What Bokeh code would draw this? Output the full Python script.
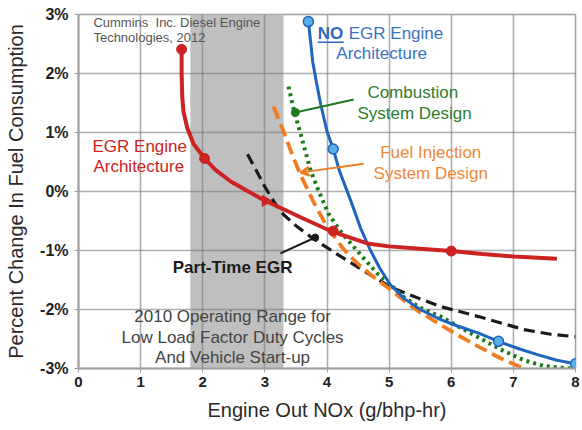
from bokeh.plotting import figure
from bokeh.models import Label, BoxAnnotation, Arrow, VeeHead, Range1d
from bokeh.embed import file_html
from bokeh.resources import INLINE

# ---------------- data ----------------
x_ticks = [0, 1, 2, 3, 4, 5, 6, 7, 8]
x_tick_labels = ["0", "1", "2", "3", "4", "5", "6", "7", "8"]
y_ticks = [-3, -2, -1, 0, 1, 2, 3]
y_tick_labels = ["-3%", "-2%", "-1%", "0%", "1%", "2%", "3%"]

# EGR engine architecture (red)
red_x = [1.66, 1.66, 1.67, 1.69, 1.75, 1.85, 2.03, 2.20, 2.45, 2.70, 3.01, 3.30, 3.60, 4.06, 4.65, 5.00, 5.50, 6.00, 6.50, 7.00, 7.70]
red_y = [2.41, 2.00, 1.60, 1.35, 1.08, 0.81, 0.56, 0.37, 0.17, 0.02, -0.16, -0.30, -0.45, -0.67, -0.88, -0.93, -0.97, -1.01, -1.06, -1.10, -1.14]
red_mx = [1.66, 2.03, 4.10, 6.00]
red_my = [2.41, 0.56, -0.67, -1.01]
red_tx = [3.01]
red_ty = [-0.16]

# NO EGR engine architecture (blue)
blue_x = [3.70, 3.74, 3.77, 3.83, 3.90, 4.00, 4.10, 4.20, 4.38, 4.54, 4.70, 4.85, 5.02, 5.25, 5.50, 5.83, 6.10, 6.44, 6.76, 7.10, 7.40, 7.70, 8.00]
blue_y = [2.88, 2.50, 2.20, 1.85, 1.47, 1.02, 0.72, 0.35, -0.15, -0.62, -1.00, -1.30, -1.58, -1.82, -2.00, -2.17, -2.28, -2.40, -2.54, -2.67, -2.77, -2.86, -2.92]
blue_mx = [3.70, 4.10, 6.76, 8.00]
blue_my = [2.88, 0.72, -2.54, -2.92]

# Combustion system design (green dotted)
green_x = [3.38, 3.43, 3.48, 3.57, 3.66, 3.74, 3.85, 4.03, 4.22, 4.54, 4.80, 5.02, 5.25, 5.50, 5.83, 6.10, 6.45, 6.80, 7.17, 7.50, 7.92]
green_y = [1.78, 1.55, 1.32, 1.00, 0.65, 0.34, 0.05, -0.39, -0.68, -1.07, -1.38, -1.58, -1.80, -1.97, -2.12, -2.28, -2.48, -2.68, -2.86, -2.96, -3.00]

# Fuel injection system design (orange dashed)
orange_x = [3.14, 3.30, 3.45, 3.57, 3.78, 4.00, 4.27, 4.49, 4.75, 5.02, 5.30, 5.50, 5.83, 6.10, 6.44, 6.80, 7.17]
orange_y = [1.44, 1.02, 0.60, 0.29, -0.17, -0.60, -0.98, -1.22, -1.45, -1.66, -1.90, -2.05, -2.26, -2.43, -2.63, -2.83, -3.00]

# Part-time EGR (black dashed)
black_x = [2.72, 2.85, 3.00, 3.15, 3.30, 3.50, 3.78, 4.00, 4.22, 4.60, 5.02, 5.50, 5.83, 6.44, 7.17, 7.60, 8.00]
black_y = [0.63, 0.38, 0.08, -0.18, -0.39, -0.58, -0.80, -0.95, -1.10, -1.35, -1.62, -1.82, -1.95, -2.12, -2.34, -2.42, -2.46]

# 2010 operating range band
band_left, band_right = 1.8, 3.3

FONT = "Liberation Sans"
RED = "#cc2222"
BLUE = "#1f64bd"
BLUE_FILL = "#5aaee8"
GREEN = "#1d7a1d"
ORANGE = "#f07d22"
BLACK = "#1a1a1a"

p = figure(width=582, height=430, output_backend="svg", toolbar_location=None,
           x_range=Range1d(0, 8), y_range=Range1d(-3, 3),
           min_border_left=78, min_border_right=7, min_border_top=14, min_border_bottom=62)
p.background_fill_color = "white"
p.border_fill_color = "white"
p.outline_line_color = "#a0a0a0"
p.outline_line_width = 1.5

band = BoxAnnotation(left=band_left, right=band_right, fill_color="#bfbfbf", fill_alpha=1.0,
                     line_color=None, level="image")
p.add_layout(band)

for g in (p.xgrid, p.ygrid):
    g.grid_line_color = "#7a7a7a"
    g.grid_line_alpha = 0.6
    g.grid_line_width = 1.6

p.xaxis.ticker = x_ticks
p.yaxis.ticker = y_ticks
p.xaxis.major_label_overrides = {t: l for t, l in zip(x_ticks, x_tick_labels)}
p.yaxis.major_label_overrides = {t: l for t, l in zip(y_ticks, y_tick_labels)}

for ax in (p.xaxis, p.yaxis):
    ax.axis_line_color = "#a0a0a0"
    ax.axis_line_width = 2
    ax.major_tick_line_color = "#a0a0a0"
    ax.major_tick_out = 4
    ax.major_tick_in = 0
    ax.minor_tick_line_color = None
    ax.major_label_text_font = FONT
    ax.major_label_text_font_style = "bold"
    ax.major_label_text_color = "#222222"
    ax.axis_label_text_font = FONT
    ax.axis_label_text_font_style = "normal"
    ax.axis_label_text_color = "#2a2a2a"
    ax.axis_label_text_font_size = "20px"

p.xaxis.major_label_text_font_size = "15px"
p.yaxis.major_label_text_font_size = "16px"
p.xaxis.major_label_standoff = 4
p.yaxis.major_label_standoff = 6
p.xaxis.axis_label = "Engine Out NOx (g/bhp-hr)"
p.yaxis.axis_label = "Percent Change In Fuel Consumption"
p.xaxis.axis_label_standoff = 9
p.yaxis.axis_label_standoff = 10

# curves
p.line(black_x, black_y, line_color=BLACK, line_width=3.2, line_dash="11 6")
p.line(orange_x, orange_y, line_color=ORANGE, line_width=3.8, line_dash="13 6")
p.line(green_x, green_y, line_color=GREEN, line_width=4, line_dash="3 4")
p.line(blue_x, blue_y, line_color=BLUE, line_width=3)
p.line(red_x, red_y, line_color=RED, line_width=4)

p.scatter(red_mx, red_my, size=10, fill_color=RED, line_color=RED)
p.scatter(red_tx, red_ty, marker="triangle", size=11, angle=0.5, fill_color=RED, line_color=RED)
p.scatter(blue_mx, blue_my, size=10, fill_color=BLUE_FILL, line_color=BLUE, line_width=1.5)

# leader lines
p.line([4.43, 3.49], [1.56, 1.34], line_color=GREEN, line_width=2)
p.scatter([3.49], [1.34], size=8, fill_color=GREEN, line_color=GREEN)
p.add_layout(Arrow(end=VeeHead(size=9, line_color=ORANGE, fill_color=ORANGE, line_width=2),
                   x_start=4.59, y_start=0.47, x_end=3.57, y_end=0.32,
                   line_color=ORANGE, line_width=2))
p.line([3.25, 3.81], [-1.05, -0.78], line_color=BLACK, line_width=2)
p.scatter([3.81], [-0.78], size=7, fill_color=BLACK, line_color=BLACK)


def lab(x, y, text, color, size="17px", align="left", style="normal"):
    p.add_layout(Label(x=x, y=y, text=text, text_color=color, text_font=FONT,
                       text_font_size=size, text_align=align, text_baseline="middle",
                       text_font_style=style))


lab(0.24, 2.86, "Cummins\u00a0 Inc. Diesel Engine", "#555555", "13px")
lab(0.24, 2.61, "Technologies, 2012", "#555555", "13px")

lab(0.225, 0.76, "EGR Engine", RED)
lab(0.24, 0.42, "Architecture", RED)

lab(3.85, 2.68, "NO", "#2f68bd", style="bold")
lab(4.35, 2.68, "EGR Engine", "#3a72c2")
p.line([3.85, 4.27], [2.53, 2.53], line_color="#2f68bd", line_width=1.5)
lab(4.88, 2.34, "Architecture", "#3a72c2", align="center")

lab(5.38, 1.68, "Combustion", "#2e7d2e", align="center")
lab(5.41, 1.32, "System Design", "#2e7d2e", align="center")

lab(5.67, 0.66, "Fuel Injection", "#ef8838", align="center")
lab(5.67, 0.31, "System Design", "#ef8838", align="center")

lab(2.48, -1.29, "Part-Time EGR", "#1a1a1a", align="center", style="bold")

lab(2.48, -2.12, "2010 Operating Range for", "#444444", align="center")
lab(2.48, -2.47, "Low Load Factor Duty Cycles", "#444444", align="center")
lab(2.48, -2.81, "And Vehicle Start-up", "#444444", align="center")

open("out.html", "w").write(file_html(p, INLINE))
